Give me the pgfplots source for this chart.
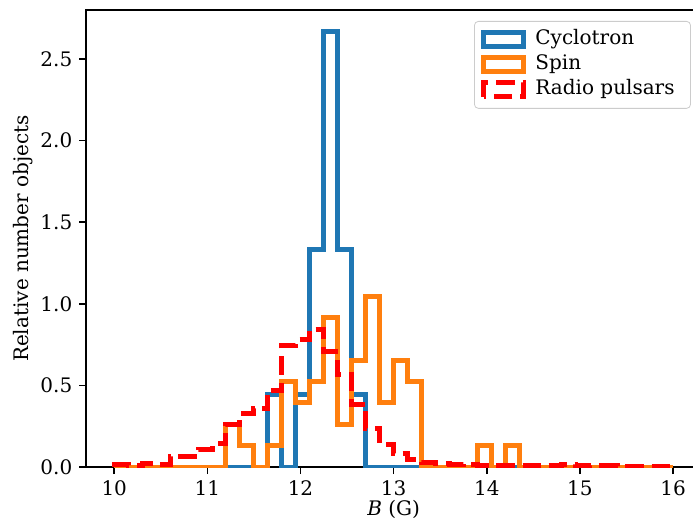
\documentclass[border=0pt]{standalone}
\usepackage{fontspec}
\setmainfont{DejaVu Serif}
\usepackage{pgfplots}
\usepackage{pgfplotstable}
\pgfplotsset{compat=1.18}
\definecolor{mplblue}{HTML}{1F77B4}
\definecolor{mplorange}{HTML}{FF7F0E}

\pgfplotstableread{
x cyc spin radio
10.00 0 0 0
10.00 0 0 0.015
10.15 0 0 0.008
10.30 0 0 0.022
10.45 0 0 0.013
10.60 0 0 0.062
10.75 0 0 0.062
10.90 0 0 0.110
11.05 0 0 0.142
11.20 0 0.2614 0.260
11.35 0 0.1307 0.325
11.50 0 0 0.360
11.65 0.4444 0.1307 0.470
11.80 0 0.5229 0.745
11.95 0.4444 0.3922 0.780
12.10 1.3333 0.5229 0.845
12.25 2.6667 0.9150 0.705
12.40 1.3333 0.2614 0.565
12.55 0.4444 0.6536 0.385
12.70 0 1.0458 0.237
12.85 0 0.3922 0.140
13.00 0 0.6536 0.080
13.15 0 0.5229 0.045
13.30 0 0 0.025
13.45 0 0 0.020
13.60 0 0 0.015
13.75 0 0 0.017
13.90 0 0.1307 0.010
14.05 0 0 0.012
14.20 0 0.1307 0.010
14.35 0 0 0.010
14.50 0 0 0.010
14.65 0 0 0.012
14.80 0 0 0.016
14.95 0 0 0.008
15.10 0 0 0.010
15.25 0 0 0.008
15.40 0 0 0.006
15.55 0 0 0.006
15.70 0 0 0.006
15.85 0 0 0.006
16.00 0 0 0
}\histdata

\begin{document}
\begin{tikzpicture}
\begin{axis}[
  name=ax,
  scale only axis,
  width=307.35pt, height=228.5pt,
  xmin=9.7, xmax=16.3, ymin=0, ymax=2.8,
  xtick={10,11,12,13,14,15,16},
  ytick={0,0.5,1,1.5,2,2.5},
  yticklabel style={/pgf/number format/.cd, fixed, fixed zerofill, precision=1},
  /pgf/number format/assume math mode=true,
  tick align=outside,
  xtick pos=bottom, ytick pos=left,
  major tick length=3.5pt,
  every tick/.style={black, line width=0.8pt},
  axis line style={line width=0.8pt},
  tick label style={font=\fontsize{10}{12}\selectfont},
  label style={font=\fontsize{10}{12}\selectfont},
  xlabel={\textit{B} (G)},
  ylabel={Relative number objects},
  xlabel style={at={(axis description cs:0.5,-0.094)}, anchor=center},
  ylabel style={at={(axis description cs:-0.103,0.5)}, anchor=center},
  legend image code/.code={\draw[#1, sharp corners, fill=white] (0pt,-3.5pt) rectangle (20pt,3.5pt);},
  legend cell align=left,
  legend style={
    at={(rel axis cs:0.9837,0.976)}, anchor=north east,
    draw=black!20, rounded corners=2pt, fill=white,
    font=\fontsize{10}{12}\selectfont,
    inner xsep=3.5pt, inner ysep=3pt,
    nodes={inner ysep=1.25pt, inner xsep=4.5pt, text height=7.5pt, text depth=2.5pt},
  },
  line join=miter,
]
\addplot[const plot, draw=mplblue, line width=2.5pt] table[x=x, y=cyc] {\histdata};
\addlegendentry{Cyclotron}
\addplot[const plot, draw=mplorange, line width=2.5pt] table[x=x, y=spin] {\histdata};
\addlegendentry{Spin}
\addplot[const plot, draw=red, line width=2.5pt, dash pattern=on 9.25pt off 4pt] table[x=x, y=radio] {\histdata};
\addlegendentry{Radio pulsars}
\end{axis}
\pgfresetboundingbox
\path ([shift={(-43.15pt,-30pt)}]ax.south west) rectangle ([shift={(303.35pt,233.5pt)}]ax.south west);
\end{tikzpicture}
\end{document}
